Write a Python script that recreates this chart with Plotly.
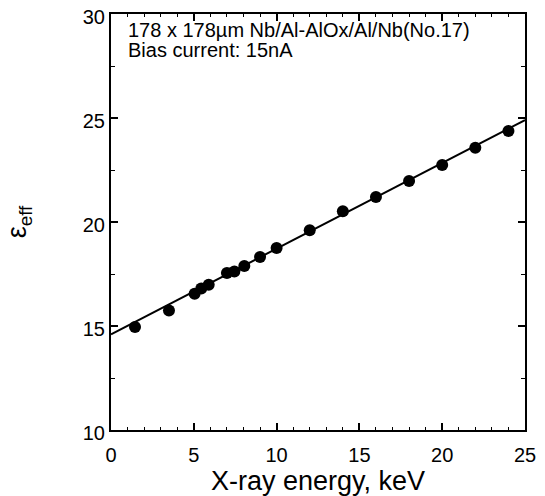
import plotly.graph_objects as go

energy_kev = [1.45, 3.5, 5.05, 5.45, 5.9, 7.0, 7.45, 8.05, 9.0, 10.0, 12.0, 14.0, 16.0, 18.0, 20.0, 22.0, 24.0]
eps_eff = [14.95, 15.75, 16.55, 16.8, 16.98, 17.55, 17.62, 17.88, 18.32, 18.75, 19.6, 20.52, 21.2, 21.97, 22.74, 23.57, 24.38]
fit_x = [0, 25]
fit_y = [14.6, 24.9]

x_ticks = [0, 5, 10, 15, 20, 25]
y_ticks = [10, 15, 20, 25, 30]

font_family = "Liberation Sans, Arial, sans-serif"

fig = go.Figure()
fig.add_trace(go.Scatter(x=fit_x, y=fit_y, mode="lines",
                         line=dict(color="black", width=2), showlegend=False))
fig.add_trace(go.Scatter(x=energy_kev, y=eps_eff, mode="markers",
                         marker=dict(color="black", size=12), showlegend=False))

axis_common = dict(showgrid=False, zeroline=False, showline=True, linecolor="black",
                   linewidth=2, mirror="ticks", ticks="inside", ticklen=7, tickwidth=1.5,
                   tickcolor="black", automargin=False, ticklabeloverflow="allow",
                   tickfont=dict(family=font_family, size=20, color="black"))

fig.update_xaxes(range=[0, 25], tickvals=x_ticks, ticklabelstandoff=6,
                 minor=dict(dtick=1, ticks="inside", ticklen=3, tickcolor="black", tickwidth=1),
                 title=dict(text="X-ray energy, keV", font=dict(family=font_family, size=27, color="black"), standoff=2),
                 **axis_common)
fig.update_yaxes(range=[10, 30], tickvals=y_ticks, ticklabelshift=3,
                 minor=dict(dtick=2.5, ticks="inside", ticklen=4, tickcolor="black", tickwidth=1),
                 title=dict(text="ε<sub>eff</sub>", font=dict(family=font_family, size=27, color="black"), standoff=48),
                 **axis_common)

fig.add_annotation(x=0, y=1, xref="paper", yref="paper", xanchor="left", yanchor="middle",
                   xshift=15, yshift=-16, align="left", showarrow=False,
                   text="178 x 178µm Nb/Al-AlOx/Al/Nb(No.17)",
                   font=dict(family=font_family, size=20, color="black"))
fig.add_annotation(x=0, y=1, xref="paper", yref="paper", xanchor="left", yanchor="middle",
                   xshift=15, yshift=-36, align="left", showarrow=False,
                   text="Bias current: 15nA",
                   font=dict(family=font_family, size=20, color="black"))

fig.update_layout(width=545, height=496, margin=dict(l=111, r=20, t=14, b=66),
                  plot_bgcolor="white", paper_bgcolor="white")

fig.write_html("out.html")
